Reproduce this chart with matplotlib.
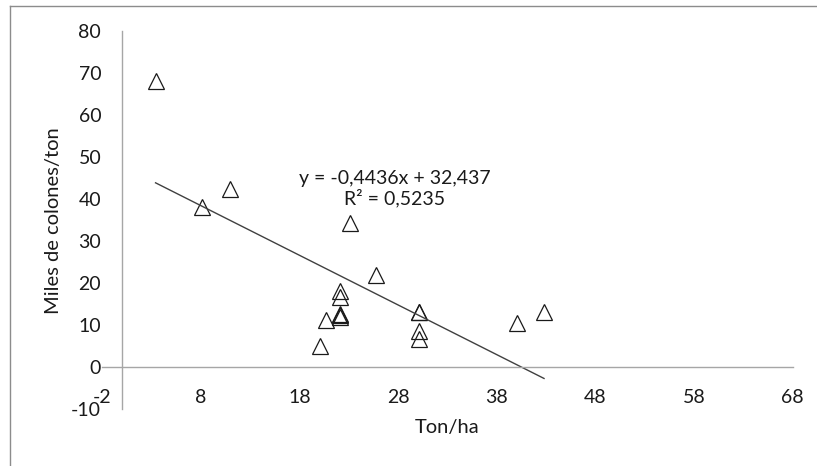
import numpy as np
import matplotlib
matplotlib.use("Agg")
import matplotlib.pyplot as plt
from matplotlib.lines import Line2D

plt.rcParams['font.family'] = ['Lato', 'DejaVu Sans']

# Data
ton_ha = [3.4, 8.1, 11.0, 23.1, 25.8, 22.1, 22.1, 22.1, 22.1, 22.1,
          20.7, 20.1, 30.1, 30.1, 30.1, 30.1, 40.1, 42.8]
miles_colones = [68.0, 38.0, 42.5, 34.4, 21.9, 18.1, 16.7, 12.0, 12.3, 12.6,
                 11.3, 5.1, 13.2, 13.2, 8.6, 6.7, 10.5, 13.0]
x_ticks = [-2, 8, 18, 28, 38, 48, 58, 68]
y_ticks = [-10, 0, 10, 20, 30, 40, 50, 60, 70, 80]
equation_text = "y = -0,4436x + 32,437\nR² = 0,5235"
x_label = "Ton/ha"
y_label = "Miles de colones/ton"

W, H = 817, 466
fig = plt.figure(figsize=(W / 100, H / 100), dpi=100)
left_px, right_px, top_px, bottom_px = 102.3, 792.5, 31, 409
ax = fig.add_axes([left_px / W, 1 - bottom_px / H,
                   (right_px - left_px) / W, (bottom_px - top_px) / H])
ax.set_xlim(-2, 68)
ax.set_ylim(-10, 80)

axis_col = '#a6a6a6'
text_col = '#1a1a1a'
fs_tick = 14
fs_label = 14.5

for s in ['top', 'right']:
    ax.spines[s].set_visible(False)
ax.spines['left'].set_position(('data', 0))
ax.spines['bottom'].set_position(('data', 0))
ax.spines['left'].set_color(axis_col)
ax.spines['bottom'].set_color(axis_col)
ax.spines['left'].set_linewidth(1.0)
ax.spines['bottom'].set_linewidth(1.0)

ax.set_xticks(x_ticks)
ax.set_yticks(y_ticks)
ax.set_xticklabels([str(v) for v in x_ticks])
ax.set_yticklabels([str(v) for v in y_ticks])
ax.tick_params(axis='x', length=0, pad=15.8, labelsize=fs_tick, labelcolor=text_col)
ax.tick_params(axis='y', length=0, pad=15.0, labelsize=fs_tick, labelcolor=text_col)

# Scatter points
ax.plot(ton_ha, miles_colones, linestyle='none', marker='^', markersize=11,
        markerfacecolor='none', markeredgecolor='#1a1a1a', markeredgewidth=0.9,
        clip_on=False)

# Linear trend line from least squares fit
xa = np.array(ton_ha)
ya = np.array(miles_colones)
slope, intercept = np.polyfit(xa, ya, 1)
xs = np.array([xa.min(), xa.max()])
ax.plot(xs, slope * xs + intercept, color='#404040', linewidth=1.0, clip_on=False)

ax.text(395 / W, 1 - 189 / H, equation_text, transform=fig.transFigure,
        ha='center', va='center', multialignment='center', fontsize=fs_tick,
        color=text_col, linespacing=1.1)

fig.text(447 / W, 1 - 428 / H, x_label, ha='center', va='center',
         fontsize=fs_label, color=text_col)
fig.text(53 / W, 1 - 221 / H, y_label, ha='center', va='center',
         rotation=90, fontsize=fs_label, color=text_col)

# outer chart frame (top and left edges visible)
fig.add_artist(Line2D([10 / W, 1.0], [1 - 6 / H, 1 - 6 / H],
                      transform=fig.transFigure, color='#8c8c8c', linewidth=1.0))
fig.add_artist(Line2D([10 / W, 10 / W], [0, 1 - 6 / H],
                      transform=fig.transFigure, color='#8c8c8c', linewidth=1.0))

fig.savefig('out.png', dpi=100)
